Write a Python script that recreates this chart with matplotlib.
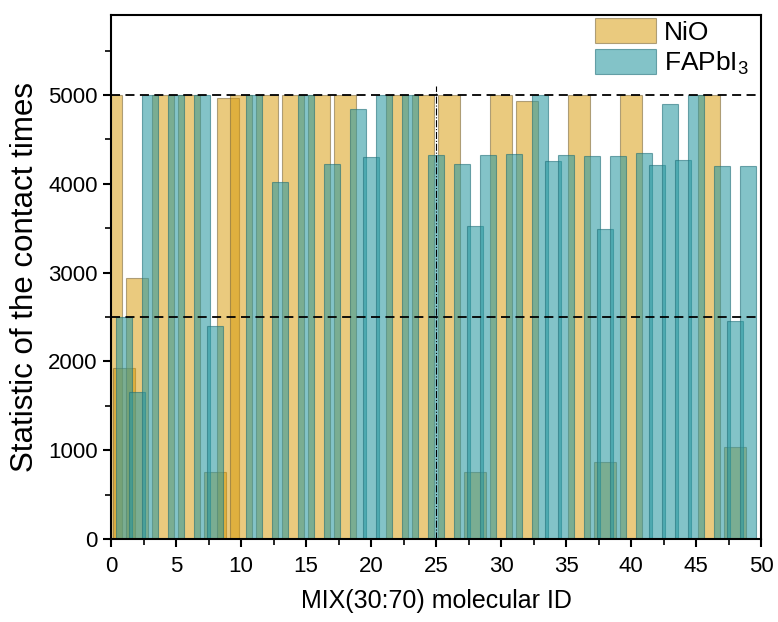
import numpy as np
import matplotlib
matplotlib.use("Agg")
import matplotlib.pyplot as plt
from matplotlib.patches import Patch

# Contact-time statistics per molecule
mol_id = np.arange(50)
nio = [5000, 1920, 2940, 0, 5000, 0, 5000, 0, 750, 4970,
       5000, 0, 5000, 0, 5000, 0, 5000, 0, 5000, 0,
       0, 0, 5000, 0, 5000, 0, 5000, 0, 750, 0,
       5000, 0, 4935, 0, 0, 0, 5000, 0, 870, 0,
       5000, 0, 0, 0, 0, 0, 5000, 0, 1040, 0]
fapbi3 = [0, 2500, 1660, 5000, 0, 5000, 0, 5000, 2400, 0,
          0, 5000, 0, 4020, 0, 5000, 0, 4220, 0, 4840,
          4300, 5000, 0, 5000, 0, 4320, 0, 4220, 3520, 4320,
          0, 4335, 0, 5000, 4255, 4325, 0, 4310, 3490, 4315,
          0, 4345, 4210, 4900, 4265, 5000, 0, 4200, 2450, 4205]

nio_color = "#D69703"
fap_color = "#2A99A1"

plt.rcParams["font.family"] = ["Liberation Sans", "DejaVu Sans"]
plt.rcParams["mathtext.fontset"] = "custom"
plt.rcParams["mathtext.rm"] = "Liberation Sans"
plt.rcParams["mathtext.it"] = "Liberation Sans:italic"

fig = plt.figure(figsize=(7.78, 6.22), dpi=100)
ax = fig.add_axes([0.1427, 0.1334, 0.8355, 0.8425])

ax.bar(mol_id, nio, width=1.68, color=nio_color, alpha=0.51,
       edgecolor="#6b5a30", linewidth=0.8)
ax.bar(mol_id, fapbi3, width=1.22, color=fap_color, alpha=0.58,
       edgecolor="#1f6f78", linewidth=0.8)

# Reference lines
ax.axhline(5000, color="black", linestyle=(0, (5, 3)), linewidth=1.3)
ax.axhline(2500, color="black", linestyle=(0, (5, 3)), linewidth=1.3)
ax.plot([25, 25], [0, 5100], color="black", linestyle="-.", linewidth=0.8)

ax.set_xlim(0, 50)
ax.set_ylim(0, 5900)
ax.set_xticks(np.arange(0, 51, 5))
ax.set_xticks(np.arange(0, 51, 2.5), minor=True)
ax.set_yticks(np.arange(0, 5001, 1000))
ax.set_yticks(np.arange(0, 5501, 500), minor=True)
ax.tick_params(axis="both", which="major", labelsize=16, length=6, width=1.5, direction="out")
ax.tick_params(axis="x", which="major", pad=6)
ax.tick_params(axis="both", which="minor", length=4, width=1.2, direction="out")
for side in ax.spines.values():
    side.set_linewidth(1.5)

ax.set_xlabel("MIX(30:70) molecular ID", fontsize=18, labelpad=9)
ax.set_ylabel("Statistic of the contact times", fontsize=22.5, labelpad=6)

handles = [
    Patch(facecolor=nio_color, alpha=0.51, edgecolor="#6b5a30", linewidth=0.8),
    Patch(facecolor=fap_color, alpha=0.58, edgecolor="#1f6f78", linewidth=0.8),
]
ax.legend(handles, ["NiO", "FAPbI$_3$"], loc="upper left",
          bbox_to_anchor=(0.745, 0.994), frameon=False, fontsize=19,
          handlelength=2.3, handleheight=1.1, labelspacing=0.15,
          handletextpad=0.3, borderpad=0, borderaxespad=0)

fig.savefig("out.png", dpi=100)
